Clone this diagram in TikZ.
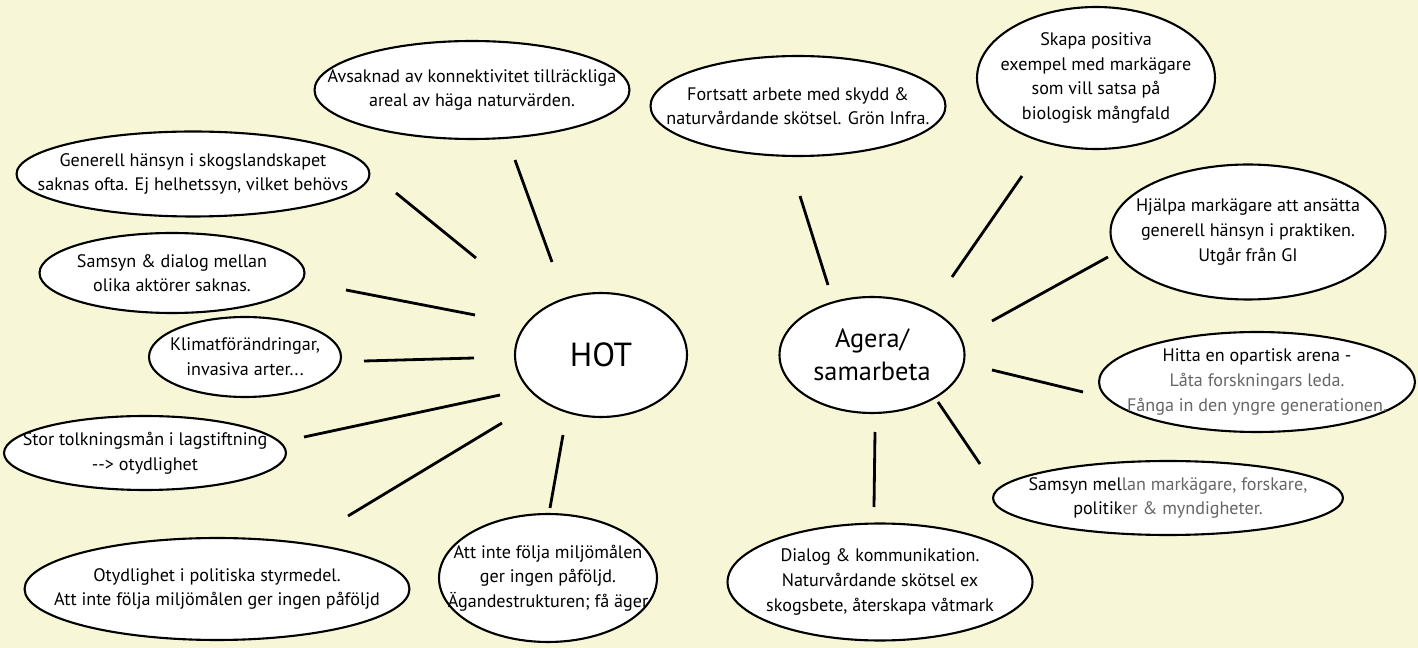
\documentclass[tikz,border=0pt]{standalone}
\usepackage{fontspec}
\setmainfont{PT Sans}
\usetikzlibrary{shapes.geometric}

\definecolor{paper}{RGB}{247,247,216}
\colorlet{faint}{black!60}

\tikzset{
  bubble/.style={ellipse, draw=black, line width=1.2pt, fill=white, inner sep=0pt},
  txt/.style={align=center, inner sep=0pt, font=\fontsize{10.3}{14}\selectfont},
  spoke/.style={line width=1.6pt},
}

\begin{document}
\begin{tikzpicture}[x=0.02cm, y=-0.02cm]
    \fill[paper] (0,0) rectangle (1418,648);
    % the two hubs
    \node[bubble, minimum width=3.44cm, minimum height=2.48cm] (hot) at (601,355) {};
    \node[font=\fontsize{19}{22}\selectfont] (hotlabel) at (hot) {HOT};
    \node[bubble, minimum width=3.70cm, minimum height=2.32cm] (agera) at (872,355) {};
    \node[align=center, font=\fontsize{15}{19}\selectfont] (ageralabel) at (agera) {Agera/\\samarbeta};
    % HOT side
    \node[bubble, minimum width=6.30cm, minimum height=1.96cm,
          label={[txt]center:{Avsaknad av konnektivitet tillräckliga\\areal av häga naturvärden.}}] (avs) at (472,90) {};
    \node[bubble, minimum width=7.06cm, minimum height=1.70cm,
          label={[txt]center:{Generell hänsyn i skogslandskapet\\saknas ofta. Ej helhetssyn, vilket behövs}}] (gen) at (193,174) {};
    \node[bubble, minimum width=5.30cm, minimum height=1.60cm,
          label={[txt]center:{Samsyn \& dialog mellan\\olika aktörer saknas.}}] (sam) at (172,273) {};
    \node[bubble, minimum width=3.84cm, minimum height=1.60cm,
          label={[txt]center:{Klimatförändringar,\\invasiva arter...}}] (kli) at (245,357) {};
    \node[bubble, minimum width=5.64cm, minimum height=1.48cm,
          label={[txt]center:{Stor tolkningsmån i lagstiftning\\{-}{-}> otydlighet}}] (sto) at (145,453) {};
    \node[bubble, minimum width=7.70cm, minimum height=2.04cm,
          label={[txt]center:{Otydlighet i politiska styrmedel.\\Att inte följa miljömålen ger ingen påföljd}}] (oty) at (217,589) {};
    \node[bubble, minimum width=4.36cm, minimum height=2.56cm,
          label={[txt]center:{Att inte följa miljömålen\\ger ingen påföljd.\\Ägandestrukturen; få äger}}] (att) at (548,578) {};
    % Agera side
    \node[bubble, minimum width=5.90cm, minimum height=2.00cm,
          label={[txt]center:{Fortsatt arbete med skydd \&\\naturvårdande skötsel. Grön Infra.}}] (for) at (798,106) {};
    \node[bubble, minimum width=4.76cm, minimum height=2.84cm,
          label={[txt]center:{Skapa positiva\\exempel med markägare\\som vill satsa på\\biologisk mångfald}}] (ska) at (1096,78) {};
    \node[bubble, minimum width=5.50cm, minimum height=2.70cm,
          label={[txt]center:{Hjälpa markägare att ansätta\\generell hänsyn i praktiken.\\Utgår från GI}}] (hja) at (1248,232) {};
    \node[bubble, minimum width=6.32cm, minimum height=2.00cm,
          label={[txt]center:{Hitta en opartisk arena -\\\textcolor{faint}{Låta forskningars leda.}\\\textcolor{faint}{Fånga in den yngre generationen.}}}] (hit) at (1257,382) {};
    \node[bubble, minimum width=7.00cm, minimum height=1.48cm,
          label={[txt]center:{Samsyn mel\textcolor{faint}{lan markägare, forskare,}\\politik\textcolor{faint}{er \& myndigheter.}}}] (smm) at (1168,498) {};
    \node[bubble, minimum width=6.10cm, minimum height=2.34cm,
          label={[txt]center:{Dialog \& kommunikation.\\Naturvårdande skötsel ex\\skogsbete, återskapa våtmark}}] (dia) at (880,582) {};
    % spokes, free standing between the hubs and the bubbles
    \foreach \n/\a/\b in {avs/{552,262}/{515,160}, gen/{476,258}/{396,193},
        sam/{475,315}/{346,290}, kli/{474,358}/{364,361}, sto/{500,395}/{304,437},
        oty/{502,423}/{348,516}, att/{563,435}/{550,508},
        for/{828,285}/{800,196}, ska/{952,277}/{1022,176}, hja/{992,321}/{1108,257},
        hit/{992,370}/{1083,392}, smm/{938,402}/{980,464}, dia/{875,432}/{874,507}} {
      \coordinate (\n-in) at (\a);
      \coordinate (\n-out) at (\b);
      \draw[spoke] (\n-in) -- (\n-out);
    }
\end{tikzpicture}
\end{document}
